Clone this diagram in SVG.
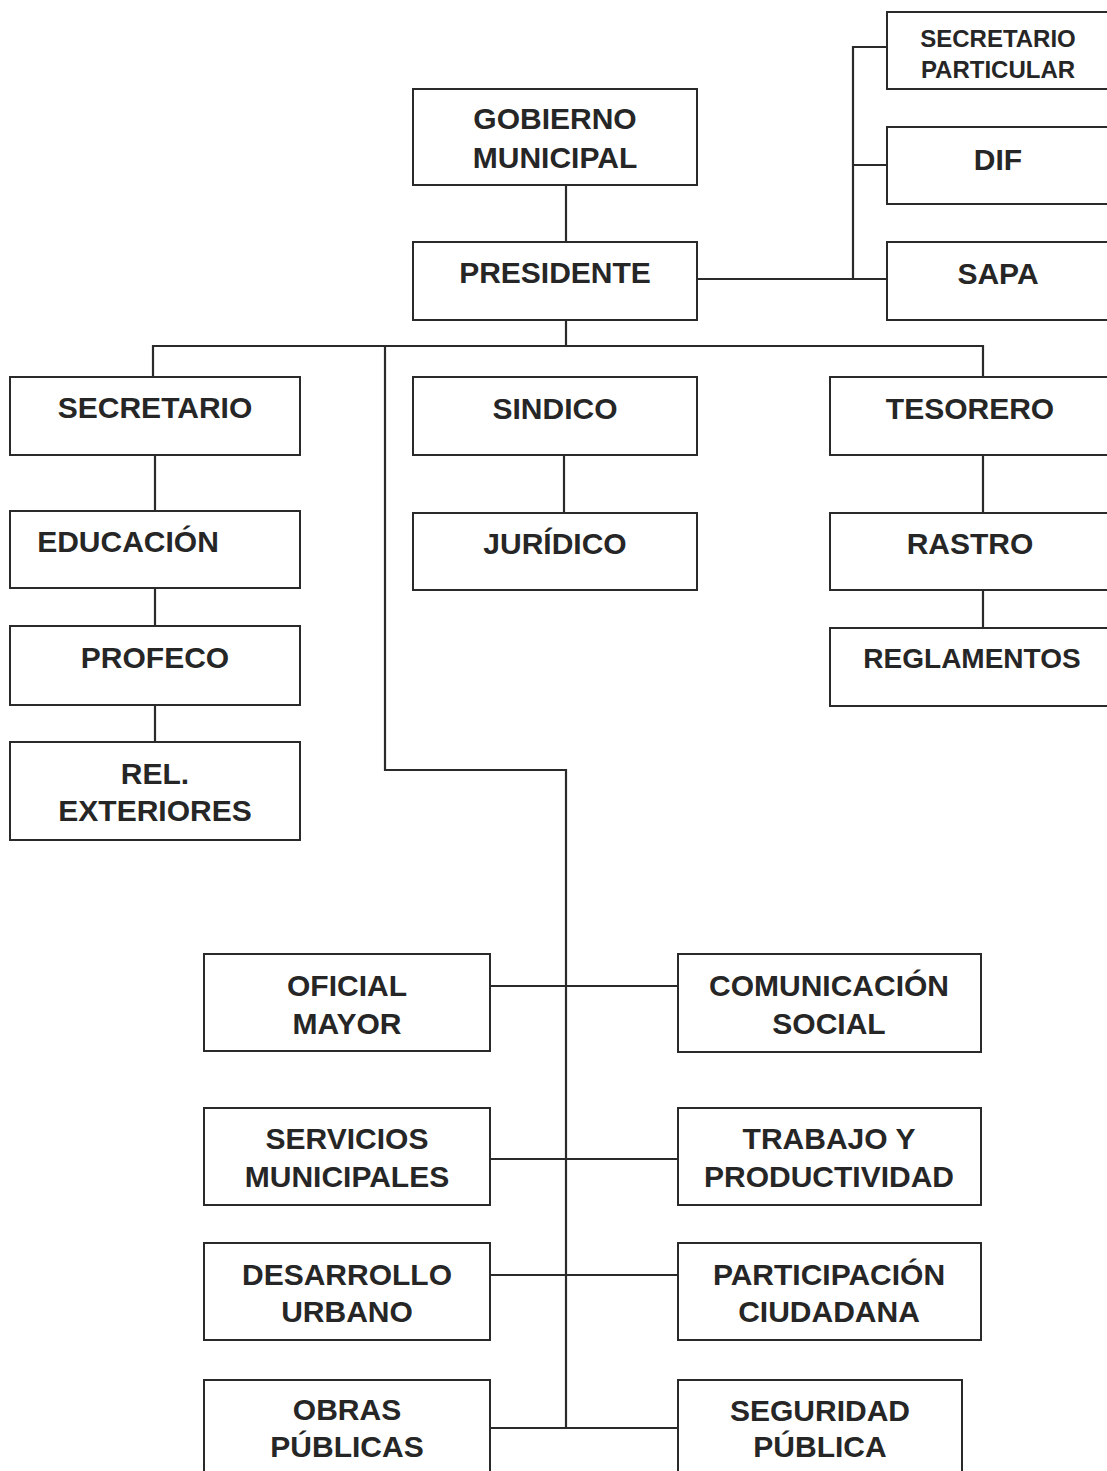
<svg xmlns="http://www.w3.org/2000/svg" width="1107" height="1471" viewBox="0 0 1107 1471">
<style>
.box{fill:#fff;stroke:#2a2a2a;stroke-width:2}
.t{font-family:"Liberation Sans",Arial,sans-serif;font-weight:bold;font-size:30px;fill:#262626;text-anchor:middle}
.s{font-size:24px}
.m{font-size:28px}
.c{fill:none;stroke:#2a2a2a;stroke-width:2.2}
</style>
<rect width="1107" height="1471" fill="#fff"/>
<g id="connectors">
<path class="c" d="M566 185V242"/>
<path class="c" d="M697 279H887M853 279V47H887M853 165H887"/>
<path class="c" d="M566 320V346M153 377V346H983V377"/>
<path class="c" d="M155 455V511M155 588V626M155 705V742"/>
<path class="c" d="M564 455V513"/>
<path class="c" d="M983 455V513M983 590V628"/>
<path class="c" d="M385 346V770H566V1428"/>
<path class="c" d="M490 986H678M490 1159H678M490 1275H678M490 1428H678"/>
</g>
<g id="gobierno"><rect class="box" x="413" y="89" width="284" height="96"/><text class="t" x="555" y="129">GOBIERNO</text><text class="t" x="555" y="168">MUNICIPAL</text></g>
<g id="presidente"><rect class="box" x="413" y="242" width="284" height="78"/><text class="t" x="555" y="283">PRESIDENTE</text></g>
<g id="sec-particular"><rect class="box" x="887" y="12" width="235" height="77"/><text class="t s" x="998" y="47">SECRETARIO</text><text class="t s" x="998" y="78">PARTICULAR</text></g>
<g id="dif"><rect class="box" x="887" y="127" width="235" height="77"/><text class="t" x="998" y="170">DIF</text></g>
<g id="sapa"><rect class="box" x="887" y="242" width="235" height="78"/><text class="t" x="998" y="284">SAPA</text></g>
<g id="secretario"><rect class="box" x="10" y="377" width="290" height="78"/><text class="t" x="155" y="418">SECRETARIO</text></g>
<g id="sindico"><rect class="box" x="413" y="377" width="284" height="78"/><text class="t" x="555" y="419">SINDICO</text></g>
<g id="tesorero"><rect class="box" x="830" y="377" width="290" height="78"/><text class="t" x="970" y="419">TESORERO</text></g>
<g id="educacion"><rect class="box" x="10" y="511" width="290" height="77"/><text class="t" x="128" y="552">EDUCACIÓN</text></g>
<g id="juridico"><rect class="box" x="413" y="513" width="284" height="77"/><text class="t" x="555" y="554">JURÍDICO</text></g>
<g id="rastro"><rect class="box" x="830" y="513" width="290" height="77"/><text class="t" x="970" y="554">RASTRO</text></g>
<g id="profeco"><rect class="box" x="10" y="626" width="290" height="79"/><text class="t" x="155" y="668">PROFECO</text></g>
<g id="reglamentos"><rect class="box" x="830" y="628" width="290" height="78"/><text class="t m" x="972" y="668">REGLAMENTOS</text></g>
<g id="rel-exteriores"><rect class="box" x="10" y="742" width="290" height="98"/><text class="t" x="155" y="784">REL.</text><text class="t" x="155" y="821">EXTERIORES</text></g>
<g id="oficial-mayor"><rect class="box" x="204" y="954" width="286" height="97"/><text class="t" x="347" y="996">OFICIAL</text><text class="t" x="347" y="1034">MAYOR</text></g>
<g id="comunicacion-social"><rect class="box" x="678" y="954" width="303" height="98"/><text class="t" x="829" y="996">COMUNICACIÓN</text><text class="t" x="829" y="1034">SOCIAL</text></g>
<g id="servicios-municipales"><rect class="box" x="204" y="1108" width="286" height="97"/><text class="t" x="347" y="1149">SERVICIOS</text><text class="t" x="347" y="1187">MUNICIPALES</text></g>
<g id="trabajo"><rect class="box" x="678" y="1108" width="303" height="97"/><text class="t" x="829" y="1149">TRABAJO Y</text><text class="t" x="829" y="1187">PRODUCTIVIDAD</text></g>
<g id="desarrollo-urbano"><rect class="box" x="204" y="1243" width="286" height="97"/><text class="t" x="347" y="1285">DESARROLLO</text><text class="t" x="347" y="1322">URBANO</text></g>
<g id="participacion"><rect class="box" x="678" y="1243" width="303" height="97"/><text class="t" x="829" y="1285">PARTICIPACIÓN</text><text class="t" x="829" y="1322">CIUDADANA</text></g>
<g id="obras-publicas"><rect class="box" x="204" y="1380" width="286" height="110"/><text class="t" x="347" y="1420">OBRAS</text><text class="t" x="347" y="1457">PÚBLICAS</text></g>
<g id="seguridad-publica"><rect class="box" x="678" y="1380" width="284" height="110"/><text class="t" x="820" y="1421">SEGURIDAD</text><text class="t" x="820" y="1457">PÚBLICA</text></g>
</svg>
